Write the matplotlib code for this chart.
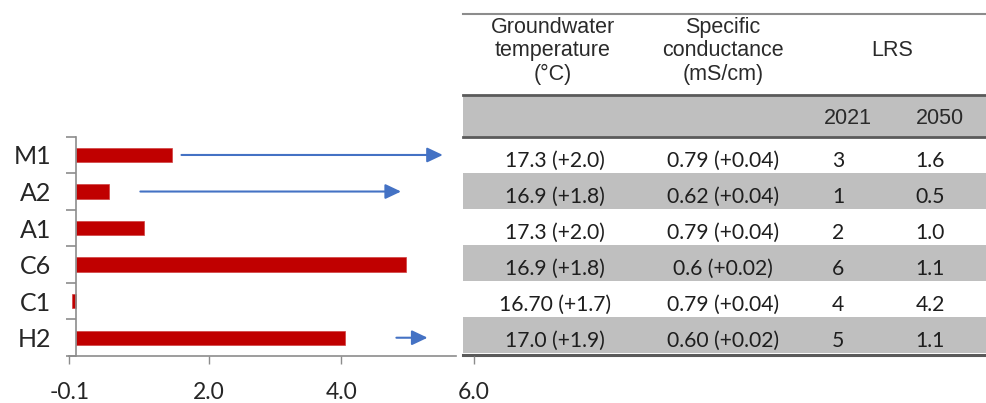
import matplotlib.pyplot as plt
import matplotlib.patches as mpatches
import numpy as np

# bar chart data (top to bottom)
sites = ["M1", "A2", "A1", "C6", "C1", "H2"]
values = [1.45, 0.49, 1.02, 4.98, -0.06, 4.05]
x_ticks = [-0.1, 2.0, 4.0, 6.0]

# arrows from bars towards the table (site, start, end)
arrow_sites = ["M1", "A2", "H2"]
arrow_start = [1.59, 0.97, 4.83]
arrow_end = [5.53, 4.90, 5.30]

# table data
header_cols = ["Groundwater\ntemperature\n(°C)", "Specific\nconductance\n(mS/cm)", "LRS"]
lrs_years = ["2021", "2050"]
gw_temp = ["17.3 (+2.0)", "16.9 (+1.8)", "17.3 (+2.0)", "16.9 (+1.8)", "16.70 (+1.7)", "17.0 (+1.9)"]
spec_cond = ["0.79 (+0.04)", "0.62 (+0.04)", "0.79 (+0.04)", "0.6 (+0.02)", "0.79 (+0.04)", "0.60 (+0.02)"]
lrs_2021 = ["3", "1", "2", "6", "4", "5"]
lrs_2050 = ["1.6", "0.5", "1.0", "1.1", "4.2", "1.1"]

W, H = 986, 403
fig = plt.figure(figsize=(W / 100, H / 100), dpi=100)

# ---- bar chart ----
px_per_unit = (474 - 76) / 6.0
left_px = 76 - 0.1 * px_per_unit
ax = fig.add_axes([left_px / W, (H - 356) / H, (474 - left_px) / W, (356 - 136.7) / H])
ax.set_facecolor("none")
ypos = np.arange(len(sites))
ax.barh(ypos, values, height=0.39, color="#C00000", edgecolor="#D04040", linewidth=0.5, zorder=2)
ax.set_xlim(-0.1, 6.0)
ax.set_ylim(len(sites) - 0.5, -0.5)

for s in ["top", "right"]:
    ax.spines[s].set_visible(False)
ax.spines["left"].set_position(("data", 0))
ax.spines["left"].set_color("#8C8C8C")
ax.spines["bottom"].set_color("#8C8C8C")
ax.spines["left"].set_linewidth(1.2)
ax.spines["bottom"].set_linewidth(1.2)
ax.spines["bottom"].set_bounds(-0.1, (456 - 76) / px_per_unit)

ax.set_xticks(x_ticks)
ax.set_xticklabels(["%.1f" % v for v in x_ticks])
ax.tick_params(axis="x", length=6, width=1, color="#8C8C8C", labelsize=16.5,
               labelcolor="#262626", pad=13)
ax.set_yticks(np.arange(len(sites) + 1) - 0.5)
ax.set_yticklabels([])
ax.tick_params(axis="y", which="major", length=7, width=1.2, color="#8C8C8C")
ax.set_yticks(ypos, minor=True)
ax.set_yticklabels(sites, minor=True)
ax.tick_params(axis="y", which="minor", length=0, labelsize=18, labelcolor="#262626", pad=18)
for lab in ax.get_xticklabels() + ax.get_yticklabels(minor=True):
    lab.set_family("Lato")

for s, x0, x1 in zip(arrow_sites, arrow_start, arrow_end):
    y = sites.index(s)
    ax.annotate("", xy=(x1, y), xytext=(x0, y), clip_on=False, zorder=3,
                arrowprops=dict(arrowstyle="-|>,head_length=0.95,head_width=0.45",
                                color="#4472C4", lw=1.5, shrinkA=0, shrinkB=0))

# ---- table ----
tx = fig.add_axes([0, 0, 1, 1], zorder=-1)
tx.set_xlim(0, W)
tx.set_ylim(H, 0)
tx.axis("off")

x0t, x1t = 463, W
gray = "#BFBFBF"
line_dark = "#5A5A5A"

tx.plot([x0t, x1t], [14, 14], color="#8C8C8C", lw=1.5)
tx.add_patch(mpatches.Rectangle((x0t, 95), x1t - x0t, 42, color=gray, lw=0))
tx.plot([x0t, x1t], [95, 95], color=line_dark, lw=2)
tx.plot([x0t, x1t], [137, 137], color=line_dark, lw=2)

hdr_font = dict(family="Liberation Sans", fontsize=15.5, color="#2a2a2a",
                ha="center", va="center", linespacing=1.17)
tx.text(553, 51, header_cols[0], **hdr_font)
tx.text(723, 51, header_cols[1], **hdr_font)
tx.text(892, 51, header_cols[2], **hdr_font)
tx.text(848, 118, lrs_years[0], **hdr_font)
tx.text(940, 118, lrs_years[1], **hdr_font)

row_h = 36
cell_font = dict(family="Lato", fontsize=15.2, color="#1e1e1e", ha="center", va="center")
for i in range(len(gw_temp)):
    top = 137 + row_h * i
    if i % 2 == 1:
        tx.add_patch(mpatches.Rectangle((x0t, top), x1t - x0t, row_h, color=gray, lw=0))
    yc = top + row_h / 2 + 6
    tx.text(555, yc, gw_temp[i], **cell_font)
    tx.text(723, yc, spec_cond[i], **cell_font)
    tx.text(838, yc, lrs_2021[i], **cell_font)
    tx.text(930, yc, lrs_2050[i], **cell_font)
tx.plot([x0t, x1t], [355, 355], color=line_dark, lw=2.2)

fig.savefig("out.png", dpi=100)
